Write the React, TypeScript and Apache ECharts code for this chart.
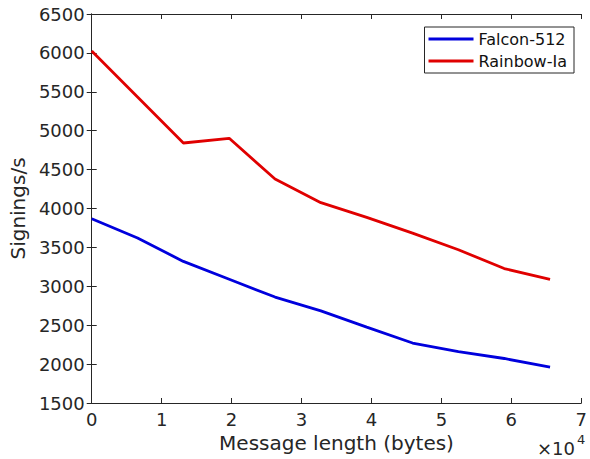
import React, { useEffect, useRef } from "react";
import * as echarts from "echarts";

const messageLength = [0, 6554, 13107, 19661, 26214, 32768, 39322, 45875, 52429, 58982, 65536];
const falcon512 = [3868, 3620, 3320, 3090, 2862, 2685, 2475, 2271, 2160, 2072, 1960];
const rainbowIa = [6025, 5432, 4842, 4902, 4379, 4075, 3885, 3683, 3470, 3228, 3090];
const seriesNames = ["Falcon-512", "Rainbow-Ia"];
const seriesColors = ["#0000dd", "#e00000"];

const FONT = "DejaVu Sans";
const AX = "#262626";

export default function App() {
  const ref = useRef<HTMLDivElement>(null);
  useEffect(() => {
    if (!ref.current) return;
    const chart = echarts.init(ref.current, undefined, { renderer: "svg" });
    const baseAxisLine = { show: true, lineStyle: { color: AX, width: 1 } };
    chart.setOption({
      animation: false,
      backgroundColor: "#ffffff",
      grid: { left: 89, right: 4, top: 14, bottom: 56, containLabel: false },
      legend: {
        orient: "vertical",
        right: 16,
        top: 27,
        data: seriesNames,
        icon: "rect",
        itemWidth: 45,
        itemHeight: 3,
        itemGap: 6,
        padding: [4, 7, 4, 4],
        borderColor: AX,
        borderWidth: 1,
        backgroundColor: "#ffffff",
        textStyle: { fontFamily: FONT, fontSize: 16, lineHeight: 16, color: "#111" },
      },
      xAxis: [
        {
          type: "value",
          min: 0,
          max: 70000,
          interval: 10000,
          name: "Message length (bytes)",
          nameLocation: "middle",
          nameGap: 27,
          nameTextStyle: { fontFamily: FONT, fontSize: 20, color: AX },
          axisLine: baseAxisLine,
          axisTick: { show: true, inside: true, length: 5, lineStyle: { color: AX } },
          axisLabel: {
            fontFamily: FONT,
            fontSize: 18,
            color: AX,
            margin: 7,
            formatter: (v: number) => String(v / 10000),
          },
          splitLine: { show: false },
        },
        {
          type: "value",
          position: "top",
          min: 0,
          max: 70000,
          interval: 10000,
          axisLine: baseAxisLine,
          axisTick: { show: true, inside: true, length: 5, lineStyle: { color: AX } },
          axisLabel: { show: false },
          splitLine: { show: false },
        },
      ],
      yAxis: [
        {
          type: "value",
          min: 1500,
          max: 6500,
          interval: 500,
          name: "Signings/s",
          nameLocation: "middle",
          nameGap: 60,
          nameTextStyle: { fontFamily: FONT, fontSize: 20, color: AX },
          axisLine: baseAxisLine,
          axisTick: { show: true, inside: true, length: 5, lineStyle: { color: AX } },
          axisLabel: {
            fontFamily: FONT,
            fontSize: 18,
            color: AX,
            margin: 7,
            formatter: (v: number) => String(v),
          },
          splitLine: { show: false },
        },
        {
          type: "value",
          position: "right",
          min: 1500,
          max: 6500,
          interval: 500,
          axisLine: baseAxisLine,
          axisTick: { show: true, inside: true, length: 5, lineStyle: { color: AX } },
          axisLabel: { show: false },
          splitLine: { show: false },
        },
      ],
      series: [
        {
          name: seriesNames[0],
          type: "line",
          data: messageLength.map((x, i) => [x, falcon512[i]]),
          showSymbol: false,
          symbol: "none",
          lineStyle: { color: seriesColors[0], width: 2.8 },
          itemStyle: { color: seriesColors[0] },
        },
        {
          name: seriesNames[1],
          type: "line",
          data: messageLength.map((x, i) => [x, rainbowIa[i]]),
          showSymbol: false,
          symbol: "none",
          lineStyle: { color: seriesColors[1], width: 2.8 },
          itemStyle: { color: seriesColors[1] },
        },
      ],
      graphic: [
        {
          type: "text",
          x: 537,
          y: 448,
          style: {
            text: "×10",
            fontFamily: FONT,
            fontSize: 18,
            fill: AX,
            textAlign: "left",
            textVerticalAlign: "middle",
          },
        },
        {
          type: "text",
          x: 577,
          y: 439,
          style: {
            text: "4",
            fontFamily: FONT,
            fontSize: 13,
            fill: AX,
            textAlign: "left",
            textVerticalAlign: "middle",
          },
        },
      ],
    });
    return () => chart.dispose();
  }, []);
  return (
    <div
      ref={ref}
      style={{ position: "absolute", left: 0, top: 0, width: 590, height: 459 }}
    />
  );
}
